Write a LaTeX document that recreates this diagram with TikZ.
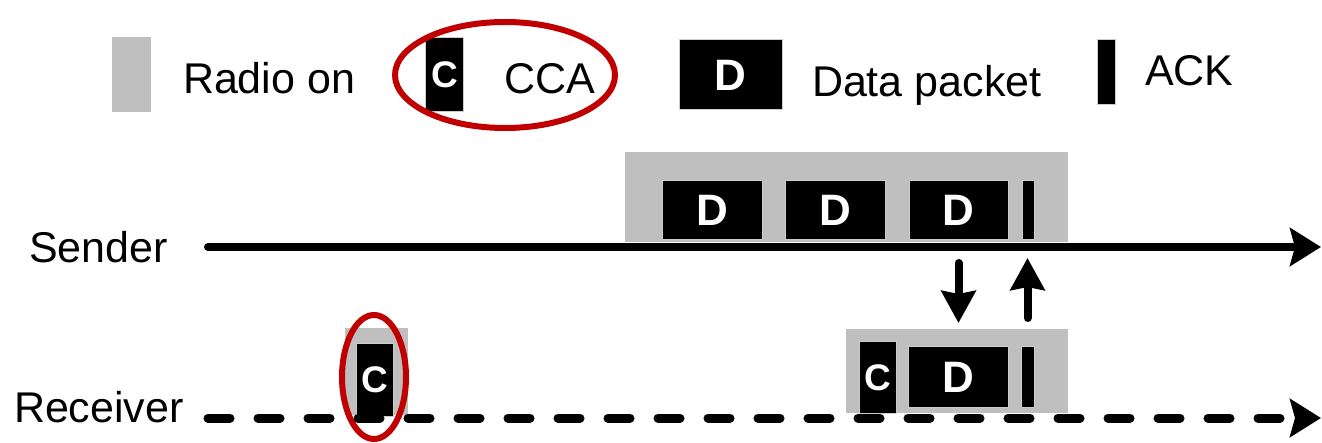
\documentclass[tikz,border=0pt]{standalone}
\usepackage{fontspec}
\setmainfont{Liberation Sans}
\usetikzlibrary{arrows.meta,shapes.geometric}
\definecolor{radiogray}{HTML}{BFBFBF}
\definecolor{ccared}{HTML}{C00000}

\begin{document}
\begin{tikzpicture}[x=1pt,y=-1pt,
  every node/.style={inner sep=0pt,outer sep=0pt},
  radio/.style={fill=radiogray,draw=none},
  pkt/.style={fill=black,draw=radiogray!80,line width=1pt,text=white,
    font=\bfseries\fontsize{44}{44}\selectfont},
  ccabox/.style={pkt,font=\bfseries\fontsize{37}{37}\selectfont},
  caption/.style={anchor=base west,font=\fontsize{43}{43}\selectfont},
  ring/.style={ellipse,draw=ccared,line width=6pt},
  timeline/.style={line width=8pt,line cap=round,
    -{Stealth[length=31pt,width=38pt,inset=5pt]}},
  msg/.style={line width=8pt,line cap=round,
    -{Stealth[length=32pt,width=34pt,inset=3pt]}},
]
\useasboundingbox (0,0) rectangle (1322,443);

% ---- legend ----
\node[radio,minimum width=39pt,minimum height=75pt] (lgRadio) at (131.5,74.5) {};
\node[caption] (lgRadioText) at (183,94) {Radio on};
\node[ccabox,minimum width=38pt,minimum height=74pt] (lgCca) at (444.5,75) {\raisebox{-1pt}{C}};
\node[caption] (lgCcaText) at (504,94) {CCA};
\node[ring,minimum width=220pt,minimum height=106pt] (lgRing) at (505,75) {};
\node[pkt,minimum width=103pt,minimum height=70pt] (lgData) at (730.5,75) {D};
\node[caption] (lgDataText) at (812,97) {Data packet};
\node[pkt,minimum width=18pt,minimum height=65pt] (lgAck) at (1106,72.5) {};
\node[caption] (lgAckText) at (1145,86) {ACK};

% ---- sender ----
\node[caption] (sLabel) at (29,263) {Sender};
\node[radio,minimum width=443pt,minimum height=90pt] (sRadio) at (846.5,197) {};
\node[pkt,minimum width=100pt,minimum height=59pt] (sD1) at (712,210.5) {D};
\node[pkt,minimum width=100pt,minimum height=59pt] (sD2) at (835,210.5) {D};
\node[pkt,minimum width=99pt,minimum height=59pt] (sD3) at (958.5,210.5) {D};
\node[pkt,minimum width=12pt,minimum height=59pt] (sAck) at (1028,210.5) {};
\coordinate (sStart) at (208,247);
\coordinate (sEnd) at (1321,247);
\draw[timeline] (sStart) -- (sEnd);

% ---- receiver ----
\node[caption] (rLabel) at (14,422) {Receiver};
\node[radio,minimum width=63pt,minimum height=87pt] (rRadioA) at (376.5,371.5) {};
\node[ccabox,minimum width=37pt,minimum height=72pt] (rCcaA) at (374.5,380) {\raisebox{-3pt}{C}};
\node[ring,minimum width=64pt,minimum height=124pt] (rRing) at (374,377) {};
\node[radio,minimum width=222pt,minimum height=84pt] (rRadioB) at (957,371) {};
\node[ccabox,minimum width=37pt,minimum height=71pt] (rCcaB) at (877.5,377.5) {\raisebox{-5pt}{C}};
\node[pkt,minimum width=100pt,minimum height=60pt] (rData) at (958,377) {D};
\node[pkt,minimum width=13pt,minimum height=60pt] (rAck) at (1027.5,377) {};
\coordinate (rStart) at (208,418);
\coordinate (rEnd) at (1321,418);
\draw[timeline,line width=9pt,dash pattern=on 22pt off 28pt] (rStart) -- (rEnd);

% ---- data and acknowledgement exchange ----
\draw[msg,shorten <=23pt,shorten >=24pt] (sD3.south) -- (sD3.south |- rData.north);
\draw[msg,shorten <=29pt,shorten >=18pt] (rAck.north) -- (rAck.north |- sAck.south);
\end{tikzpicture}
\end{document}
